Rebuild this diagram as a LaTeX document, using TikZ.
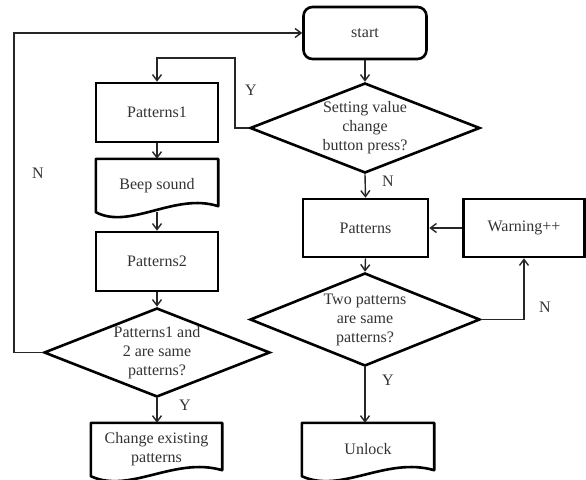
\documentclass[tikz,border=0pt]{standalone}
\usepackage{fontspec}
\setmainfont{Liberation Serif}
\usetikzlibrary{shapes.geometric,arrows.meta,positioning,calc}

\begin{document}
\begin{tikzpicture}[x=1pt,y=-1pt,
  every node/.style={font=\fontsize{16}{19}\selectfont,text=black!80},
  proc/.style={draw=black,line width=2.6pt,rectangle,minimum width=122pt,minimum height=59pt,inner sep=0pt},
  term/.style={proc,rounded corners=9pt,minimum width=123pt,minimum height=52pt},
  docu/.style={rectangle,minimum width=122pt,minimum height=53pt,inner sep=0pt,align=center},
  docline/.style={draw=black,line width=2.6pt,line join=round},
  decision/.style={draw=black,line width=2.6pt,diamond,aspect=2.5,inner sep=-5pt,minimum width=230pt,minimum height=90pt,align=center},
  conn/.style={draw=black!85,line width=1.4pt,-{Straight Barb[length=6pt,width=9pt]}},
  yn/.style={inner sep=0pt}]
\useasboundingbox (0,0) rectangle (586,479);
% -> start -> setting value?
\node[term] (start) at (365,33) {start};
\node[decision] (setval) at (365,128) {Setting value\\change\\button press?};
% left column
\node[proc] (pat1) at (157,112.5) {Patterns1};
\node[docu] (beep) at (157,185.5) {Beep sound};
\node[proc] (pat2) at (157,261.5) {Patterns2};
\node[decision,minimum width=226pt,minimum height=89pt] (same12) at (157,352.5) {Patterns1 and\\2 are same\\patterns?};
\node[docu,minimum width=131pt] (change) at (156.5,449.5) {Change existing\\patterns};
% right column
\node[proc,minimum width=125pt,minimum height=58pt] (patterns) at (365.5,228) {Patterns};
\node[proc,minimum width=121pt,minimum height=58pt] (warning) at (524,228) {Warning++};
\node[decision,minimum height=93pt] (twosame) at (365,319.5) {Two patterns\\are same\\patterns?};
\node[docu,minimum width=132pt] (unlock) at (368,449.5) {Unlock};
% document outlines
\foreach \n in {beep,change,unlock}
  \draw[docline] (\n.north west) -- (\n.north east) -- ($(\n.south east)+(0,-6)$)
    .. controls ($(\n.south)+(18,-20)$) and ($(\n.south)+(-27,18)$) .. (\n.south west) -- cycle;
% connectors
\coordinate (ybend) at (235,58);
\coordinate (nbend) at (14,33);
\draw[conn] (start.south) -- (setval.north);
\draw[conn] (setval.west) -| (ybend) -| (pat1.north);
\draw[conn] (pat1.south) -- (beep.north);
\draw[conn] (beep.south) -- (pat2.north);
\draw[conn] (pat2.south) -- (same12.north);
\draw[conn] (same12.west) -| (nbend) -- (start.west);
\draw[conn] (same12.south) -- (same12.south |- change.north);
\draw[conn] (setval.south) -- (patterns.north);
\draw[conn] (warning.west) -- (patterns.east);
\draw[conn] (patterns.south) -- (twosame.north);
\draw[conn] (twosame.east) -| (warning.south);
\draw[conn] (twosame.south) -- (twosame.south |- unlock.north);
% Y / N labels
\node[yn] (ylab1) at (251,90) {Y};
\node[yn] (nlab1) at (38,173) {N};
\node[yn] (nlab2) at (388,181) {N};
\node[yn] (ylab2) at (185,405) {Y};
\node[yn] (nlab3) at (545,307) {N};
\node[yn] (ylab3) at (388,380) {Y};
\end{tikzpicture}
\end{document}
